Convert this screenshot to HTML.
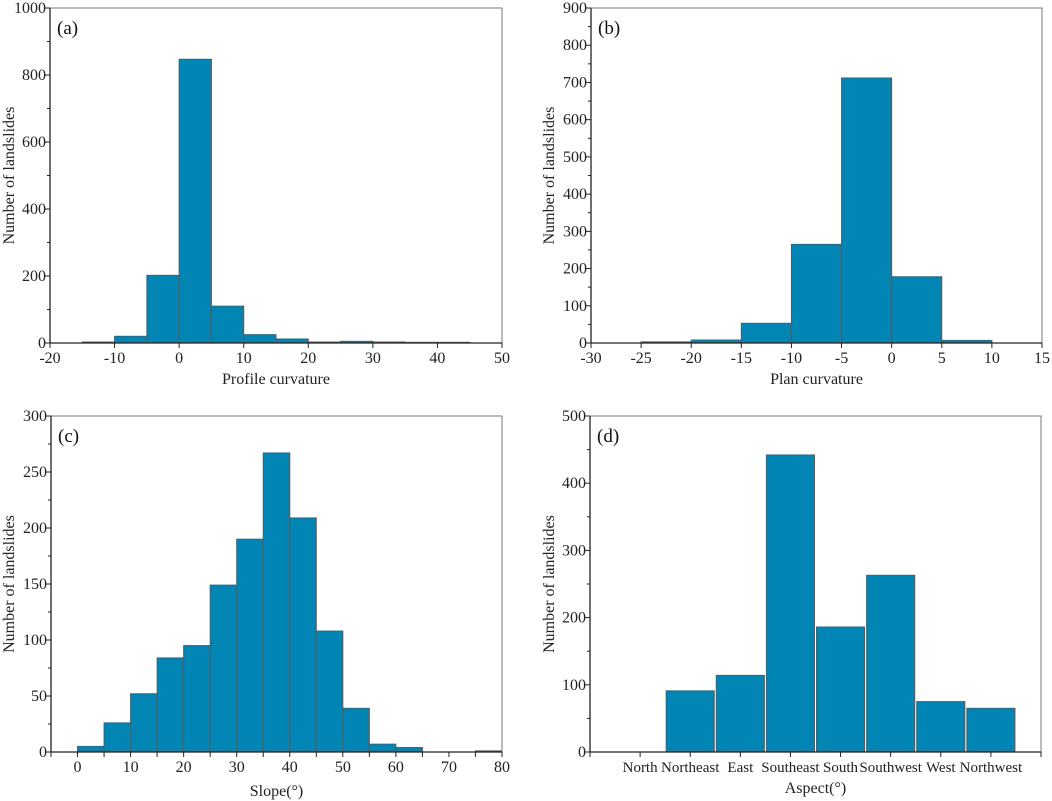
<!DOCTYPE html>
<html><head><meta charset="utf-8"><style>
html,body{margin:0;padding:0;background:#fff;}
svg{display:block;font-family:"Liberation Serif",serif;}
</style></head><body>
<svg id="fig" width="1052" height="801" viewBox="0 0 1052 801"></svg>
<script>
const aBins=[-15,-10,-5,0,5,10,15,20,25,30,35,40];
const aVals=[3,20,202,847,110,25,12,3,5,3,2,2];
const aXTicks=[-20,-10,0,10,20,30,40,50];
const aYTicks=[0,200,400,600,800,1000];
const bBins=[-25,-20,-15,-10,-5,0,5];
const bVals=[3,8,53,265,712,178,7];
const bXTicks=[-30,-25,-20,-15,-10,-5,0,5,10,15];
const bYTicks=[0,100,200,300,400,500,600,700,800,900];
const cBins=[0,5,10,15,20,25,30,35,40,45,50,55,60,65,70,75];
const cVals=[5,26,52,84,95,149,190,267,209,108,39,7,4,0,0,1];
const cXTicks=[0,10,20,30,40,50,60,70,80];
const cYTicks=[0,50,100,150,200,250,300];
const dCats=["North","Northeast","East","Southeast","South","Southwest","West","Northwest"];
const dVals=[0,91,114,442,186,263,75,65];
const dYTicks=[0,100,200,300,400,500];

const NS="http://www.w3.org/2000/svg";
const svg=document.getElementById('fig');
function el(tag,attrs,parent){const e=document.createElementNS(NS,tag);for(const k in attrs)e.setAttribute(k,attrs[k]);(parent||svg).appendChild(e);return e;}

function panel(cfg){
  const g=el('g',{});
  
  
  const {L,R,T,B,x0,x1,y0,y1}=cfg;
  const fs=cfg.fs||16;
  const sx=v=>L+(v-x0)/(x1-x0)*(R-L);
  const sy=v=>B-(v-y0)/(y1-y0)*(B-T);
  cfg.bars.forEach((b,i)=>{
    if(b.v<=0)return;
    const r=el('rect',{x:sx(b.a),y:sy(b.v),width:sx(b.b)-sx(b.a),height:sy(0)-sy(b.v),fill:'#0085b5',stroke:'#5a5a5a','stroke-width':1},g);
    
    
  });
  const fr=el('rect',{x:L,y:T,width:R-L,height:B-T,fill:'none',stroke:'#777','stroke-width':1},g);
  
  
  el('line',{x1:L,y1:T,x2:L,y2:B,stroke:'#222','stroke-width':1.3},g);
  el('line',{x1:L,y1:B,x2:R,y2:B,stroke:'#222','stroke-width':1.3},g);
  cfg.yTicks.forEach((t,i)=>{
    const y=sy(t);
    el('line',{x1:L-5,y1:y,x2:L,y2:y,stroke:'#222'},g);
    const tx=el('text',{x:L-4,y:y+5,'text-anchor':'end','font-size':16,fill:'#222'},g);
    tx.textContent=t;
    
    
    if(i<cfg.yTicks.length-1){const ym=sy((t+cfg.yTicks[i+1])/2);el('line',{x1:L-3,y1:ym,x2:L,y2:ym,stroke:'#222'},g);}
  });
  cfg.xTicks.forEach(t=>{
    const x=sx(t.v);
    el('line',{x1:x,y1:B,x2:x,y2:B+5,stroke:'#222'},g);
    if(t.label!==''){
      const tx=el('text',{x:x,y:B+20,'text-anchor':'middle','font-size':fs,fill:'#222'},g);
      tx.textContent=t.label;
      
      
    }
  });
  const xt=el('text',{x:(L+R)/2,y:B+cfg.xtOff,'text-anchor':'middle','font-size':16,fill:'#222'},g);
  xt.textContent=cfg.xTitle;
  
  
  const yx=cfg.ytX, yy=(T+B)/2;
  const yt=el('text',{x:yx,y:yy,'text-anchor':'middle','font-size':16,fill:'#222',transform:`rotate(-90 ${yx} ${yy})`},g);
  yt.textContent='Number of landslides';
  
  
  const pl=el('text',{x:L+7,y:T+26,'font-size':19,fill:'#111'},g);
  pl.textContent=cfg.tag;
  
  
}

panel({name:'panel-a-profile-curvature',tag:'(a)',L:50,R:502,T:8,B:343,x0:-20,x1:50,y0:0,y1:1000,
  bars:aBins.map((a,i)=>({a:a,b:a+5,v:aVals[i],label:a})),
  xTicks:aXTicks.map(v=>({v:v,label:String(v)})),yTicks:aYTicks,xTitle:'Profile curvature',xtOff:41,ytX:14});
panel({name:'panel-b-plan-curvature',tag:'(b)',L:591,R:1042,T:8,B:343,x0:-30,x1:15,y0:0,y1:900,
  bars:bBins.map((a,i)=>({a:a,b:a+5,v:bVals[i],label:a})),
  xTicks:bXTicks.map(v=>({v:v,label:String(v)})),yTicks:bYTicks,xTitle:'Plan curvature',xtOff:41,ytX:554});
panel({name:'panel-c-slope',tag:'(c)',L:51,R:502,T:416,B:752,x0:-5,x1:80,y0:0,y1:300,
  bars:cBins.map((a,i)=>({a:a,b:a+5,v:cVals[i],label:a})),
  xTicks:[-5,0,5,10,15,20,25,30,35,40,45,50,55,60,65,70,75,80].map(v=>({v:v,label:(v%10===0)?String(v):''})),
  yTicks:cYTicks,xTitle:'Slope(°)',xtOff:44,ytX:14});
panel({name:'panel-d-aspect',tag:'(d)',L:590,R:1041,T:416,B:752,x0:-1,x1:8,y0:0,y1:500,fs:15,
  bars:dCats.map((c,i)=>({a:i-0.48,b:i+0.48,v:dVals[i],label:c})),
  xTicks:[{v:-1,label:''}].concat(dCats.map((c,i)=>({v:i,label:c}))).concat([{v:8,label:''}]),
  yTicks:dYTicks,xTitle:'Aspect(°)',xtOff:41,ytX:554});
</script>
</body></html>
